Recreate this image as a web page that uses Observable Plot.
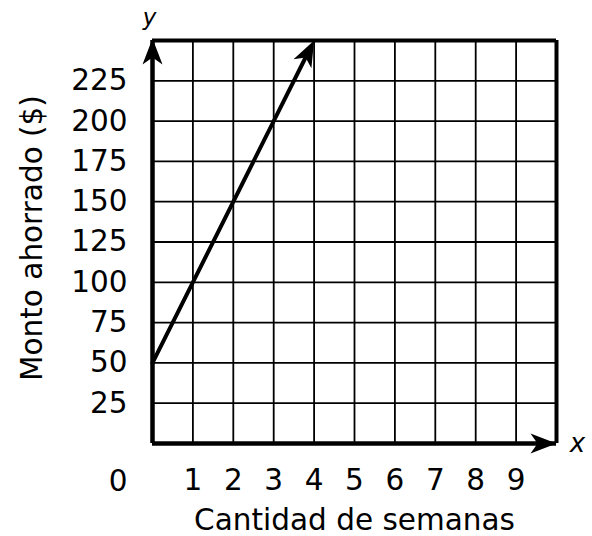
<!DOCTYPE html>
<html>
<head>
<meta charset="utf-8">
<script src="https://cdn.jsdelivr.net/npm/d3@7"></script>
<script src="https://cdn.jsdelivr.net/npm/@observablehq/plot@0.6"></script>
<style>
  html, body { margin: 0; padding: 0; background: #fff; }
</style>
</head>
<body>
<div id="chart"></div>
<script>
// Data
const weeks = [0, 4];            // Cantidad de semanas
const saved = [50, 250];         // Monto ahorrado ($)
const xTicks = [1, 2, 3, 4, 5, 6, 7, 8, 9];
const yTicks = [25, 50, 75, 100, 125, 150, 175, 200, 225];
const xGrid = [0, 1, 2, 3, 4, 5, 6, 7, 8, 9, 10];
const yGrid = [0, 25, 50, 75, 100, 125, 150, 175, 200, 225, 250];
const xDomain = [0, 10];
const yDomain = [0, 250];
const xTitle = "Cantidad de semanas";
const yTitle = "Monto ahorrado ($)";

const W = 592, H = 536;
const mL = 152, mR = 36, mT = 40, mB = 93;
const font = "DejaVu Sans, Verdana, sans-serif";
const fs = 29.5;

// Filled arrowhead symbol, tip at origin, pointing up
const arrowHead = {
  draw(ctx) {
    const w = 20, h = 26, n = 19;
    ctx.moveTo(0, 0);
    ctx.lineTo(w / 2, h);
    ctx.lineTo(0, n);
    ctx.lineTo(-w / 2, h);
    ctx.closePath();
  }
};

const seg = [{x1: weeks[0], y1: saved[0], x2: weeks[1], y2: saved[1]}];
const pw = W - mL - mR, ph = H - mT - mB;
const dxPx = (weeks[1] - weeks[0]) / (xDomain[1] - xDomain[0]) * pw;
const dyPx = (saved[1] - saved[0]) / (yDomain[1] - yDomain[0]) * ph;
const lineAngle = Math.atan2(dxPx, dyPx) * 180 / Math.PI;

const chart = Plot.plot({
  width: W,
  height: H,
  marginLeft: mL,
  marginRight: mR,
  marginTop: mT,
  marginBottom: mB,
  style: {fontFamily: font, fontSize: fs + "px", color: "black", background: "white"},
  x: {domain: xDomain},
  y: {domain: yDomain},
  marks: [
    Plot.gridX(xGrid, {stroke: "black", strokeOpacity: 1, strokeWidth: 1.8}),
    Plot.gridY(yGrid, {stroke: "black", strokeOpacity: 1, strokeWidth: 1.8}),
    Plot.ruleY([yDomain[1]], {stroke: "black", strokeWidth: 4}),
    Plot.ruleX([xDomain[1]], {stroke: "black", strokeWidth: 4}),
    Plot.ruleX([xDomain[0]], {stroke: "black", strokeWidth: 4.5}),
    Plot.ruleY([yDomain[0]], {stroke: "black", strokeWidth: 4.5}),
    Plot.dot([{x: xDomain[0], y: yDomain[1]}], {x: "x", y: "y", symbol: arrowHead, fill: "black", stroke: "none", rotate: 0, dy: -2}),
    Plot.dot([{x: xDomain[1], y: yDomain[0]}], {x: "x", y: "y", symbol: arrowHead, fill: "black", stroke: "none", rotate: 90}),
    Plot.arrow(seg, {x1: "x1", y1: "y1", x2: "x2", y2: "y2", stroke: "black", strokeWidth: 4, headLength: 0, insetEnd: 14}),
    Plot.dot(seg, {x: "x2", y: "y2", symbol: arrowHead, fill: "black", stroke: "none", rotate: lineAngle}),
    Plot.axisY({ticks: yTicks, tickSize: 0, tickPadding: 25, fontSize: fs, label: null}),
    Plot.axisX({ticks: xTicks, tickSize: 0, tickPadding: 26, fontSize: fs, label: null}),
    Plot.text([0], {x: () => xDomain[0], y: () => yDomain[0], text: (d) => String(d), dx: -25, dy: 38, textAnchor: "end", lineAnchor: "middle", fontSize: fs}),
    Plot.text([xTitle], {frameAnchor: "bottom", text: (d) => d, dy: 77, textAnchor: "middle", lineAnchor: "middle", fontSize: fs}),
    Plot.text([yTitle], {frameAnchor: "left", text: (d) => d, rotate: -90, dx: -120, dy: -4, textAnchor: "middle", lineAnchor: "middle", fontSize: fs}),
    Plot.text(["x"], {frameAnchor: "bottom-right", text: (d) => d, dx: 21, dy: 0, fontSize: 26, fontStyle: "italic", textAnchor: "middle", lineAnchor: "middle"}),
    Plot.text(["y"], {frameAnchor: "top-left", text: (d) => d, dx: -3, dy: -23, fontSize: 23, fontStyle: "italic", textAnchor: "middle", lineAnchor: "middle"})
  ]
});
document.getElementById("chart").appendChild(chart);
</script>
</body>
</html>
